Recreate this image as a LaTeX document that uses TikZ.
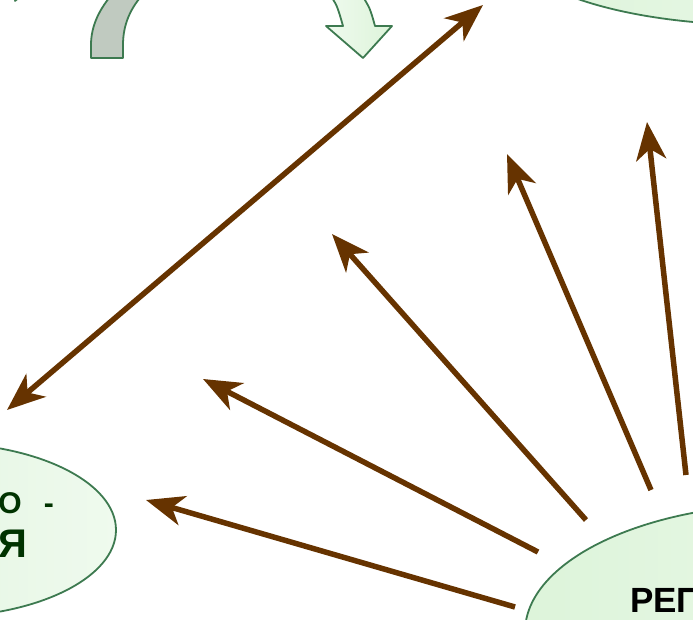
\documentclass[tikz,border=0pt]{standalone}
\usepackage{fontspec}
\setmainfont{Liberation Sans}
\usetikzlibrary{shapes.geometric, arrows.meta}
\definecolor{edgegreen}{HTML}{3D7A50}
\definecolor{bubblefill}{HTML}{DDF4DA}
\definecolor{bubblelight}{HTML}{EFFAEE}
\definecolor{brownline}{HTML}{663300}
\definecolor{grayband}{HTML}{C0CAC0}
\definecolor{darkgreen}{HTML}{003300}

\begin{document}
\begin{tikzpicture}[x=1pt, y=-1pt]
        \tikzstyle{bubble} = [ellipse, draw=edgegreen, line width=1.8pt, left color=bubblefill, right color=bubblelight, inner sep=0pt]
        \tikzstyle{link} = [draw=brownline, line width=5.5pt, >={Stealth[length=38pt, width=30pt, inset=11pt]}]
        \tikzstyle{shapeline} = [draw=edgegreen, line width=1.8pt, line join=round]
        \useasboundingbox (0,0) rectangle (693,620);
        \clip (0,0) rectangle (693,620);
        % cut-off shapes at the top
        \fill[shapeline, fill=bubblefill] (15,1) -- (40,-20) -- (24,-26) -- cycle;
        \fill[shapeline, fill=grayband] (91,58) -- (91,45) .. controls (91,25) and (100,8) .. (114,-8) -- (145,-8) .. controls (130,8) and (123,25) .. (123,45) -- (123,58) -- cycle;
        \draw[shapeline, left color=bubblelight, right color=bubblefill] (328,-8) .. controls (337,5) .. (343,26) -- (326,26) -- (363,58) -- (392,26) -- (375,26) .. controls (370,8) .. (360,-8) -- cycle;
        % ellipses
        \node (topell) [bubble, minimum width=506pt, minimum height=170pt] at (760,-60) {};
        \node (leftell) [bubble, minimum width=356pt, minimum height=174pt] at (-62,530) {};
        \node (repell) [bubble, minimum width=530pt, minimum height=256pt] at (790,632) {};
        \node (lefttxta) [anchor=base east, inner sep=0pt, text=darkgreen, font=\bfseries\fontsize{30}{32}\selectfont] at (54,513) {\char"041E\hspace{22pt}-};
        \node (lefttxtb) [anchor=base east, inner sep=0pt, text=darkgreen, font=\bfseries\fontsize{40}{42}\selectfont] at (27,557) {\char"042F};
        \node (reptxt) [anchor=base west, inner sep=0pt, font=\bfseries\fontsize{35}{38}\selectfont] at (630,612) {РЕП};
        % arrows
        \coordinate (linka) at (7,410);
        \coordinate (linkb) at (483,5);
        \coordinate (s1) at (515,607);
        \coordinate (s2) at (538,552);
        \coordinate (s3) at (586,520);
        \coordinate (s4) at (651,490);
        \coordinate (s5) at (686,475);
        \coordinate (t1) at (146,500);
        \coordinate (t2) at (203,379);
        \coordinate (t3) at (332,234);
        \coordinate (t4) at (507,154);
        \coordinate (t5) at (647,122);
        \draw [link, <->] (linka) -- (linkb);
        \draw [link, ->] (s1) -- (t1);
        \draw [link, ->] (s2) -- (t2);
        \draw [link, ->] (s3) -- (t3);
        \draw [link, ->] (s4) -- (t4);
        \draw [link, ->] (s5) -- (t5);
\end{tikzpicture}
\end{document}
